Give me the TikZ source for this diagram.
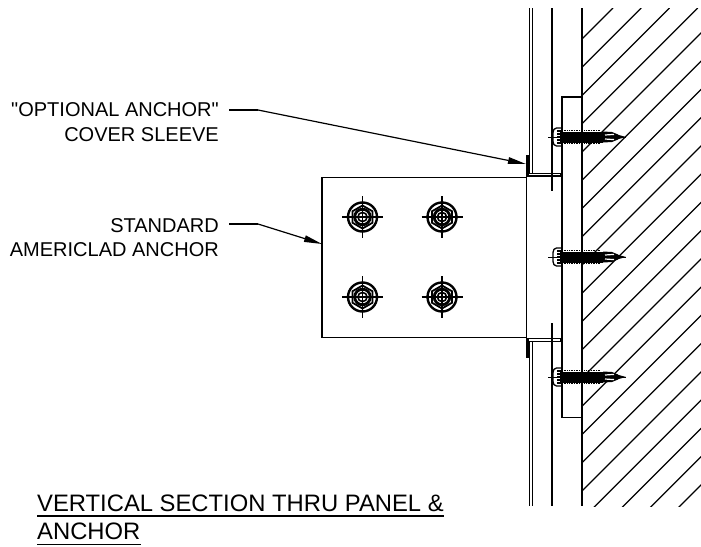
\documentclass[tikz,border=0pt]{standalone}
\usepackage{fontspec}
\setmainfont{Liberation Sans}
\newfontfamily\plainfont{Liberation Sans}
\usetikzlibrary{arrows.meta}
\tikzset{
  wall/.style={line width=1.4pt,black},
  hatchline/.style={line width=1.3pt,black},
  leader/.style={line width=1.2pt,black},
  tip/.style={-{Stealth[length=18pt,width=6.5pt,inset=0pt]}},
  lbl/.style={font=\plainfont\fontsize{20}{24}\selectfont,anchor=base east,inner sep=0pt},
  ttl/.style={font=\fontsize{23.8}{29}\selectfont,anchor=base west,inner sep=0pt},
  ulineb/.style={line width=1.4pt,black}
}
\newcommand{\boltmark}[2]{%
  \begin{scope}[shift={(#1,#2)}]
    \draw[line width=2.4pt] (0,0) circle (14.5);
    \draw[line width=1.8pt] (30:11.5)--(90:11.5)--(150:11.5)--(210:11.5)--(270:11.5)--(330:11.5)--cycle;
    \draw[line width=2.8pt] (0,0) circle (7.8);
    \draw[line width=1.6pt] (0,0) circle (4.6);
    \draw[line width=1.4pt] (-20.5,0)--(20.5,0) (0,-21)--(0,21);
  \end{scope}}
\newcommand{\screwmark}[1]{%
  \begin{scope}[shift={(0,#1)}]
    \draw[line width=1pt] (548,0)--(626,0);
    \draw[line width=1.3pt,rounded corners=1.5pt] (561,-9)--(555,-9)--(553,-6)--(553,6)--(555,9)--(561,9);
    \fill (557,-7)--(561,-7)--(561,7)--(557,7)--cycle;
    \draw[white,line width=0.9pt] (555,-4.5)--(560,-4.5) (555,-1.5)--(560,-1.5) (555,1.5)--(560,1.5) (555,4.5)--(560,4.5);
    \fill (560.5,-10) rectangle (563,10);
    \fill (562,-5.5) rectangle (603,5.5);
    \draw[line width=0.7pt,densely dotted] (562,-6.5)--(601,-6.5) (562,6.5)--(601,6.5);
    \fill (603,-5.5)--(612,-5)--(618,-2.5)--(619,0)--(618,2.5)--(612,5)--(603,5.5)--cycle;
    \fill (617,-2.5)--(626,0)--(617,2.5)--cycle;
    \draw[white,line width=1.2pt] (605,-2)--(614,-2.6) (605,2)--(614,2.6);
  \end{scope}}
\begin{document}
\begin{tikzpicture}[x=1pt,y=-1pt]
\useasboundingbox (0,0) rectangle (701,546);
% hatching
\begin{scope}
  \clip (582,8) rectangle (701,506);
  \foreach \k in {0,...,21} {
    \pgfmathsetmacro{\s}{621+28.25*\k}
    \draw[hatchline] (582,\s-582)--(\s-8,8);
  }
\end{scope}
% vertical cladding lines
\draw[wall] (529.3,8)--(529.3,173);
\draw[wall] (532.5,8)--(532.5,173);
\draw[wall] (529.3,342)--(529.3,506);
\draw[wall] (532.5,342)--(532.5,506);
\draw[wall] (552,8)--(552,190.5);
\draw[wall] (552,323)--(552,506);
\draw[wall] (582,8)--(582,506);
% plate
\draw[wall] (582,97)--(562,97)--(562,417.5)--(582,417.5);
% anchor panel
\draw[wall] (526.5,177.5)--(322,177.5)--(322,337.5)--(526.5,337.5);
\draw[wall] (526.5,155)--(526.5,358);
% clips
\draw[line width=1.2pt] (527,173.3)--(561,173.3)--(561,176)--(527,176);
\draw[line width=1.2pt] (527,338.5)--(561,338.5)--(561,341.5)--(527,341.5);
\draw[line width=2.4pt] (527.5,155)--(527.5,177);
\draw[line width=2.4pt] (527.5,338)--(527.5,358);
% bolts
\boltmark{362.5}{217}
\boltmark{442}{217}
\boltmark{362.5}{297}
\boltmark{442}{297}
% screws
\screwmark{137}
\screwmark{257}
\screwmark{377}
% labels and leaders
\node[lbl] (lblA1) at (219,116.7) {"OPTIONAL ANCHOR"};
\node[lbl] (lblA2) at (219,141.7) {COVER SLEEVE};
\node[lbl] (lblB1) at (219,232) {STANDARD};
\node[lbl] (lblB2) at (219,256) {AMERICLAD ANCHOR};
\coordinate (startA) at (229,110);
\coordinate (kA) at (258,110);
\coordinate (tipA) at (526,164);
\coordinate (startB) at (229,224);
\coordinate (kB) at (258,224);
\coordinate (tipB) at (322,244);
\draw[leader] (startA)--(kA);
\draw[leader,tip] (kA)--(tipA);
\draw[leader] (startB)--(kB);
\draw[leader,tip] (kB)--(tipB);
% title
\node[ttl] (ttlA) at (37,511) {VERTICAL SECTION THRU PANEL \&};
\node[ttl] (ttlB) at (37,539.5) {ANCHOR};
\draw[ulineb] ([yshift=-5pt]ttlA.base west) -- ([yshift=-5pt]ttlA.base east);
\draw[ulineb] ([yshift=-5pt]ttlB.base west) -- ([yshift=-5pt]ttlB.base east);
\end{tikzpicture}
\end{document}
